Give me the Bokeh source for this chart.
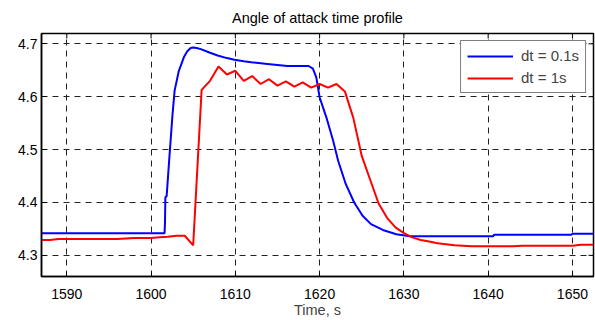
import math

from bokeh.plotting import figure
from bokeh.models import (Range1d, LinearAxis, FixedTicker, Legend, LegendItem,
                          ColumnDataSource)
from bokeh.embed import file_html
from bokeh.resources import INLINE

# Angle of attack, fine time step (dt = 0.1 s), read at the curve's knots
t_fine = [1587.0, 1601.6, 1601.65, 1601.7, 1601.85, 1602.15, 1602.55, 1602.8,
          1603.3, 1603.9, 1604.3, 1604.7, 1605.0, 1605.4, 1605.9, 1607.0,
          1607.9, 1609.0, 1609.9, 1611.0, 1611.9, 1613.8, 1616.2, 1618.7,
          1619.2, 1619.6, 1620.0, 1620.8, 1621.6, 1622.2, 1623.1, 1624.1,
          1625.1, 1626.1, 1627.5, 1629.1, 1630.7, 1640.6, 1640.7, 1649.9,
          1650.0, 1652.5]
aoa_fine = [4.342, 4.342, 4.360, 4.410, 4.412, 4.480, 4.567, 4.612,
            4.649, 4.675, 4.686, 4.692, 4.693, 4.692, 4.690, 4.683,
            4.678, 4.673, 4.670, 4.667, 4.665, 4.662, 4.658, 4.658,
            4.653, 4.637, 4.599, 4.561, 4.517, 4.479, 4.435, 4.400,
            4.375, 4.359, 4.348, 4.340, 4.336, 4.336, 4.339, 4.339,
            4.341, 4.341]

# Angle of attack, coarse time step (dt = 1 s)
t_coarse = list(range(1587, 1654))
aoa_coarse = [4.329, 4.329, 4.331, 4.331, 4.331, 4.331, 4.331, 4.331, 4.331,
              4.331, 4.332, 4.333, 4.333, 4.333, 4.334, 4.335, 4.337, 4.337,
              4.319, 4.613, 4.630, 4.657, 4.642, 4.649, 4.630, 4.639, 4.624,
              4.633, 4.621, 4.629, 4.619, 4.627, 4.617, 4.624, 4.617, 4.624,
              4.610, 4.560, 4.488, 4.443, 4.398, 4.371, 4.353, 4.342, 4.334,
              4.329, 4.326, 4.323, 4.321, 4.319, 4.318, 4.317, 4.317, 4.317,
              4.317, 4.317, 4.317, 4.318, 4.318, 4.318, 4.318, 4.318, 4.318,
              4.318, 4.320, 4.320, 4.320]

x_ticks = [1590, 1600, 1610, 1620, 1630, 1640, 1650]
y_ticks = [4.3, 4.4, 4.5, 4.6, 4.7]

FONT = "Liberation Sans"
X0, X1 = 1587, 1652.5
Y0, Y1 = 4.26, 4.7195

p = figure(width=595, height=320, output_backend="svg", toolbar_location=None,
           x_range=Range1d(X0, X1), y_range=Range1d(Y0, Y1),
           x_axis_location=None, y_axis_location=None,
           min_border_left=41, min_border_right=2, min_border_top=33,
           min_border_bottom=44)
p.background_fill_color = "white"
p.border_fill_color = "white"
p.outline_line_color = "black"
p.outline_line_width = 1.5

p.title.text = "Angle of attack time profile"
p.title.align = "center"
p.title.text_font = FONT
p.title.text_font_size = "14.5px"
p.title.text_font_style = "normal"
p.title.text_color = "black"
p.title.standoff = 15

xt = FixedTicker(ticks=x_ticks)
yt = FixedTicker(ticks=y_ticks)


def style_axis(ax):
    ax.major_tick_in = 5
    ax.major_tick_out = 0
    ax.minor_tick_line_color = None
    ax.axis_line_width = 1.5
    ax.axis_line_color = "black"
    ax.major_tick_line_color = "black"
    ax.major_label_text_font = FONT
    ax.major_label_text_font_size = "14px"
    ax.major_label_text_color = "black"
    ax.axis_label_text_font = FONT
    ax.axis_label_text_font_size = "14.5px"
    ax.axis_label_text_font_style = "normal"


xb = LinearAxis(ticker=xt, axis_label="Time, s")
style_axis(xb)
xb.major_label_standoff = 12
xb.axis_label_standoff = 0
yl = LinearAxis(ticker=yt)
style_axis(yl)
yl.major_label_standoff = 4
p.add_layout(xb, "below")
p.add_layout(yl, "left")

# inward tick marks on the top and right edges of the box
p.ray(x=x_ticks, y=[Y1] * len(x_ticks), length=5, length_units="screen",
      angle=-math.pi / 2, line_color="black", line_width=1)
p.ray(x=[X1] * len(y_ticks), y=y_ticks, length=5, length_units="screen",
      angle=math.pi, line_color="black", line_width=1)

p.xgrid.ticker = xt
p.ygrid.ticker = yt
for g in (p.xgrid, p.ygrid):
    g.grid_line_color = "#222222"
    g.grid_line_width = 1
    g.grid_line_dash = "6 5"

src_fine = ColumnDataSource(dict(t=t_fine, a=aoa_fine))
src_coarse = ColumnDataSource(dict(t=t_coarse, a=aoa_coarse))
r_fine = p.line("t", "a", source=src_fine, line_color="#0000ff", line_width=2)
r_coarse = p.line("t", "a", source=src_coarse, line_color="#ff0000", line_width=2)

legend = Legend(items=[LegendItem(label="dt = 0.1s", renderers=[r_fine]),
                       LegendItem(label="dt = 1s", renderers=[r_coarse])],
                location="top_right")
legend.margin = 7
legend.padding = 6
legend.spacing = 5
legend.glyph_width = 46
legend.glyph_height = 16
legend.label_height = 16
legend.label_standoff = 8
legend.label_text_font = FONT
legend.label_text_font_size = "15px"
legend.border_line_color = "black"
legend.border_line_width = 1
legend.background_fill_color = "white"
legend.background_fill_alpha = 1
p.add_layout(legend)

open("out.html", "w").write(file_html(p, INLINE))
